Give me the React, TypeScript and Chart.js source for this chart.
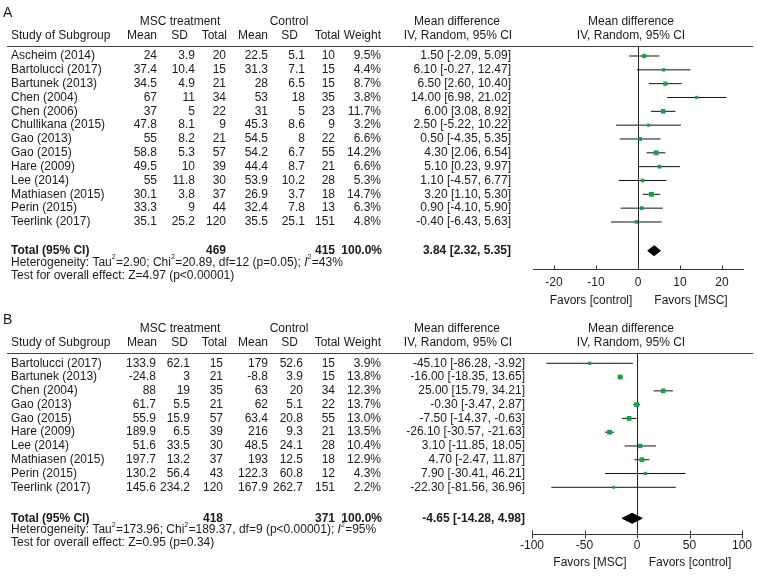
import React, { useEffect, useRef } from 'react';
import { Chart, registerables } from 'chart.js';

Chart.register(...registerables);

const FONT = '"Liberation Sans", Arial, Helvetica, sans-serif';
const TEXT = '#1a1a1a';
const GREEN = '#1a9e4a';

// ---------- Panel A data ----------
const studiesA = ['Ascheim (2014)', 'Bartolucci (2017)', 'Bartunek (2013)', 'Chen (2004)', 'Chen (2006)', 'Chullikana (2015)', 'Gao (2013)', 'Gao (2015)', 'Hare (2009)', 'Lee (2014)', 'Mathiasen (2015)', 'Perin (2015)', 'Teerlink (2017)'];
const mscMeanA = [24, 37.4, 34.5, 67, 37, 47.8, 55, 58.8, 49.5, 55, 30.1, 33.3, 35.1];
const mscSdA = [3.9, 10.4, 4.9, 11, 5, 8.1, 8.2, 5.3, 10, 11.8, 3.8, 9, 25.2];
const mscNA = [20, 15, 21, 34, 22, 9, 21, 57, 39, 30, 37, 44, 120];
const ctlMeanA = [22.5, 31.3, 28, 53, 31, 45.3, 54.5, 54.2, 44.4, 53.9, 26.9, 32.4, 35.5];
const ctlSdA = [5.1, 7.1, 6.5, 18, 5, 8.6, 8, 6.7, 8.7, 10.2, 3.7, 7.8, 25.1];
const ctlNA = [10, 15, 15, 35, 23, 9, 22, 55, 21, 28, 18, 13, 151];
const weightA = [9.5, 4.4, 8.7, 3.8, 11.7, 3.2, 6.6, 14.2, 6.6, 5.3, 14.7, 6.3, 4.8];
const mdA = [1.5, 6.1, 6.5, 14.0, 6.0, 2.5, 0.5, 4.3, 5.1, 1.1, 3.2, 0.9, -0.4];
const loA = [-2.09, -0.27, 2.6, 6.98, 3.08, -5.22, -4.35, 2.06, 0.23, -4.57, 1.1, -4.1, -6.43];
const hiA = [5.09, 12.47, 10.4, 21.02, 8.92, 10.22, 5.35, 6.54, 9.97, 6.77, 5.3, 5.9, 5.63];
const ciTextA = mdA.map((m, i) => `${m.toFixed(2)} [${loA[i].toFixed(2)}, ${hiA[i].toFixed(2)}]`);
const totalA = { nMsc: 469, nCtl: 415, md: 3.84, lo: 2.32, hi: 5.35 };
const ticksA = [-20, -10, 0, 10, 20];
const rangeA = [-25, 25];
const hetA = ['Heterogeneity: Tau', '=2.90; Chi', '=20.89, df=12 (p=0.05); ', '=43%'];
const testA = 'Test for overall effect: Z=4.97 (p<0.00001)';
const favorsA = ['Favors [control]', 'Favors [MSC]'];

// ---------- Panel B data ----------
const studiesB = ['Bartolucci (2017)', 'Bartunek (2013)', 'Chen (2004)', 'Gao (2013)', 'Gao (2015)', 'Hare (2009)', 'Lee (2014)', 'Mathiasen (2015)', 'Perin (2015)', 'Teerlink (2017)'];
const mscMeanB = [133.9, -24.8, 88, 61.7, 55.9, 189.9, 51.6, 197.7, 130.2, 145.6];
const mscSdB = [62.1, 3, 19, 5.5, 15.9, 6.5, 33.5, 13.2, 56.4, 234.2];
const mscNB = [15, 21, 35, 21, 57, 39, 30, 37, 43, 120];
const ctlMeanB = [179, -8.8, 63, 62, 63.4, 216, 48.5, 193, 122.3, 167.9];
const ctlSdB = [52.6, 3.9, 20, 5.1, 20.8, 9.3, 24.1, 12.5, 60.8, 262.7];
const ctlNB = [15, 15, 34, 22, 55, 21, 28, 18, 12, 151];
const weightB = [3.9, 13.8, 12.3, 13.7, 13.0, 13.5, 10.4, 12.9, 4.3, 2.2];
const mdB = [-45.1, -16.0, 25.0, -0.3, -7.5, -26.1, 3.1, 4.7, 7.9, -22.3];
const loB = [-86.28, -18.35, 15.79, -3.47, -14.37, -30.57, -11.85, -2.47, -30.41, -81.56];
const hiB = [-3.92, -13.65, 34.21, 2.87, -0.63, -21.63, 18.05, 11.87, 46.21, 36.96];
const ciTextB = ['-45.10 [-86.28, -3.92]', '-16.00 [-18.35, 13.65]', '25.00 [15.79, 34.21]', '-0.30 [-3.47, 2.87]', '-7.50 [-14.37, -0.63]', '-26.10 [-30.57, -21.63]', '3.10 [-11.85, 18.05]', '4.70 [-2.47, 11.87]', '7.90 [-30.41, 46.21]', '-22.30 [-81.56, 36.96]'];
const totalB = { nMsc: 418, nCtl: 371, md: -4.65, lo: -14.28, hi: 4.98 };
const ticksB = [-100, -50, 0, 50, 100];
const rangeB = [-100, 100];
const hetB = ['Heterogeneity: Tau', '=173.96; Chi', '=189.37, df=9 (p<0.00001); ', '=95%'];
const testB = 'Test for overall effect: Z=0.95 (p=0.34)';
const favorsB = ['Favors [MSC]', 'Favors [control]'];

type Panel = {
  letter: string;
  studies: string[];
  cols: string[][];
  weight: number[];
  md: number[];
  lo: number[];
  hi: number[];
  ciText: string[];
  total: { nMsc: number; nCtl: number; md: number; lo: number; hi: number };
  ticks: number[];
  range: number[];
  het: string[];
  test: string;
  favors: string[];
};

type Layout = {
  height: number;
  padLeft: number;
  padRight: number;
  padTop: number;
  padBottom: number;
  axisH: number;
  yMin: number;
  yMax: number;
  totalRow: number;
  tickUp: number;
  tickDown: number;
  tickPad: number;
  favorsY: number;
  colRight: number[];
  ciRight: number;
  hetDy: number;
  testDy: number;
};

const panelA: Panel = {
  letter: 'A', studies: studiesA,
  cols: [mscMeanA, mscSdA, mscNA, ctlMeanA, ctlSdA, ctlNA].map((a) => a.map((v) => String(v))),
  weight: weightA, md: mdA, lo: loA, hi: hiA, ciText: ciTextA, total: totalA,
  ticks: ticksA, range: rangeA, het: hetA, test: testA, favors: favorsA,
};
const panelB: Panel = {
  letter: 'B', studies: studiesB,
  cols: [mscMeanB, mscSdB, mscNB, ctlMeanB, ctlSdB, ctlNB].map((a) => a.map((v) => String(v))),
  weight: weightB, md: mdB, lo: loB, hi: hiB, ciText: ciTextB, total: totalB,
  ticks: ticksB, range: rangeB, het: hetB, test: testB, favors: favorsB,
};

const layoutA: Layout = {
  height: 307, padLeft: 533, padRight: 14, padTop: 46, padBottom: 18, axisH: 20,
  yMin: -0.723, yMax: 15.40, totalRow: 14.08, tickUp: 4, tickDown: 0, tickPad: 6,
  favorsY: 300.5, colRight: [157, 195, 226, 268, 305, 335, 381], ciRight: 511,
  hetDy: 11.5, testDy: 25,
};
const layoutB: Layout = {
  height: 272, padLeft: 532, padRight: 15, padTop: 46, padBottom: 25, axisH: 20,
  yMin: -0.747, yMax: 12.39, totalRow: 11.25, tickUp: 4, tickDown: 4, tickPad: 4,
  favorsY: 255.7, colRight: [156, 190, 223, 268, 303, 335, 381], ciRight: 525,
  hetDy: 11.5, testDy: 24.5,
};

function txt(ctx: CanvasRenderingContext2D, s: string, x: number, y: number, align: CanvasTextAlign, bold = false, size = 12, italic = false) {
  ctx.font = `${italic ? 'italic ' : ''}${bold ? 'bold ' : ''}${size}px ${FONT}`;
  ctx.textAlign = align;
  ctx.textBaseline = 'middle';
  ctx.fillStyle = TEXT;
  ctx.fillText(s, x, y);
}

function drawHet(ctx: CanvasRenderingContext2D, parts: string[], x: number, y: number) {
  const segs: { t: string; sup?: boolean; it?: boolean }[] = [
    { t: parts[0] }, { t: '2', sup: true }, { t: parts[1] }, { t: '2', sup: true },
    { t: parts[2] }, { t: 'I', it: true }, { t: '2', sup: true }, { t: parts[3] },
  ];
  let cx = x;
  segs.forEach((s) => {
    const size = s.sup ? 7 : 12;
    ctx.font = `${s.it ? 'italic ' : ''}${size}px ${FONT}`;
    const w = ctx.measureText(s.t).width;
    txt(ctx, s.t, cx, s.sup ? y - 5 : y, 'left', false, size, !!s.it);
    cx += w + (s.sup ? 0.3 : 0);
  });
}

function buildChart(canvas: HTMLCanvasElement, p: Panel, L: Layout) {
  const sideOf = (w: number) => 1.5 + 0.9 * Math.sqrt(w);
  const T = L.totalRow;
  const dh = 0.36;

  const datasets: any[] = [];
  datasets.push({
    label: 'Mean difference',
    data: p.md.map((v, i) => ({ x: v, y: i })),
    showLine: false,
    pointStyle: 'rect',
    pointRadius: p.weight.map((w) => sideOf(w) / Math.SQRT2),
    pointBackgroundColor: GREEN,
    pointBorderColor: GREEN,
    pointBorderWidth: 0,
    order: 0,
  });
  datasets.push({
    label: 'Total',
    data: [
      { x: p.total.lo, y: T }, { x: p.total.md, y: T - dh }, { x: p.total.hi, y: T },
      { x: p.total.md, y: T + dh }, { x: p.total.lo, y: T },
    ],
    borderColor: '#000',
    backgroundColor: '#000',
    borderWidth: 1,
    pointRadius: 0,
    fill: 'shape',
    tension: 0,
    order: 1,
  });
  p.studies.forEach((s, i) => {
    datasets.push({
      label: s,
      data: [{ x: p.lo[i], y: i }, { x: p.hi[i], y: i }],
      borderColor: '#111',
      borderWidth: 1,
      pointRadius: 0,
      fill: false,
      order: 2,
    });
  });

  const tablePlugin = {
    id: 'forestTable',
    afterDraw(chart: any) {
      const { ctx, chartArea, scales } = chart;
      const x = scales.x;
      const y = scales.y;
      const c = L.colRight;
      ctx.save();
      // panel letter
      txt(ctx, p.letter, 3, 13.5, 'left', false, 14);
      // header rows
      const h1 = 21.5;
      const h2 = 36;
      txt(ctx, 'MSC treatment', 180, h1, 'center');
      txt(ctx, 'Control', 289, h1, 'center');
      txt(ctx, 'Mean difference', 457, h1, 'center');
      txt(ctx, 'Mean difference', 631, h1, 'center');
      txt(ctx, 'Study of Subgroup', 11, h2, 'left');
      txt(ctx, 'Mean', 157, h2, 'right');
      txt(ctx, 'SD', 188, h2, 'right');
      txt(ctx, 'Total', 227, h2, 'right');
      txt(ctx, 'Mean', 268, h2, 'right');
      txt(ctx, 'SD', 298, h2, 'right');
      txt(ctx, 'Total', 340, h2, 'right');
      txt(ctx, 'Weight', 381, h2, 'right');
      txt(ctx, 'IV, Random, 95% CI', 458, h2, 'center');
      txt(ctx, 'IV, Random, 95% CI', 631, h2, 'center');
      // header rule
      const ly = Math.round(chartArea.top) + 0.5;
      ctx.strokeStyle = '#444';
      ctx.lineWidth = 1;
      ctx.beginPath();
      ctx.moveTo(7, ly);
      ctx.lineTo(753, ly);
      ctx.stroke();
      // study rows
      p.studies.forEach((s, i) => {
        const yy = y.getPixelForValue(i);
        txt(ctx, s, 11, yy, 'left');
        p.cols.forEach((col, k) => txt(ctx, col[i], c[k], yy, 'right'));
        txt(ctx, `${p.weight[i].toFixed(1)}%`, c[6], yy, 'right');
        txt(ctx, p.ciText[i], L.ciRight, yy, 'right');
      });
      // total row
      const ty = y.getPixelForValue(T);
      txt(ctx, 'Total (95% CI)', 11, ty, 'left', true);
      txt(ctx, String(p.total.nMsc), c[2], ty, 'right', true);
      txt(ctx, String(p.total.nCtl), c[5], ty, 'right', true);
      txt(ctx, '100.0%', c[6] + 1, ty, 'right', true);
      txt(ctx, `${p.total.md.toFixed(2)} [${p.total.lo.toFixed(2)}, ${p.total.hi.toFixed(2)}]`, L.ciRight, ty, 'right', true);
      drawHet(ctx, p.het, 11, ty + L.hetDy);
      txt(ctx, p.test, 11, ty + L.testDy, 'left');
      // tick marks
      const ay = Math.round(chartArea.bottom) + 0.5;
      ctx.strokeStyle = '#333';
      ctx.lineWidth = 1;
      x.ticks.forEach((t: any) => {
        const px = Math.round(x.getPixelForValue(t.value)) + 0.5;
        ctx.beginPath();
        ctx.moveTo(px, ay - L.tickUp);
        ctx.lineTo(px, ay + L.tickDown);
        ctx.stroke();
      });
      // favours labels
      const z = x.getPixelForValue(0);
      txt(ctx, p.favors[0], z - 47, L.favorsY, 'center');
      txt(ctx, p.favors[1], z + 53, L.favorsY, 'center');
      ctx.restore();
    },
  };

  return new Chart(canvas, {
    type: 'line',
    data: { datasets },
    options: {
      animation: false,
      responsive: false,
      devicePixelRatio: 1,
      events: [],
      layout: { padding: { left: L.padLeft, right: L.padRight, top: L.padTop, bottom: L.padBottom } },
      plugins: { legend: { display: false }, tooltip: { enabled: false }, title: { display: false } },
      scales: {
        x: {
          type: 'linear',
          min: p.range[0],
          max: p.range[1],
          afterBuildTicks: (s: any) => {
            s.ticks = p.ticks.map((v) => ({ value: v }));
          },
          afterFit: (s: any) => {
            s.height = L.axisH;
          },
          ticks: {
            padding: L.tickPad,
            color: TEXT,
            font: { size: 12, family: FONT },
            maxRotation: 0,
            autoSkip: false,
            callback: (v: any) => String(v),
          },
          grid: {
            display: true,
            drawOnChartArea: true,
            drawTicks: false,
            lineWidth: 1,
            color: (ctx: any) => (ctx.tick && ctx.tick.value === 0 ? '#222' : 'rgba(0,0,0,0)'),
          },
          border: { display: true, color: '#333', width: 1 },
        },
        y: { type: 'linear', display: false, min: L.yMin, max: L.yMax, reverse: true },
      },
    },
    plugins: [tablePlugin],
  } as any);
}

function ForestPanel({ panel, layout, top }: { panel: Panel; layout: Layout; top: number }) {
  const ref = useRef<HTMLCanvasElement>(null);
  useEffect(() => {
    if (!ref.current) return;
    const chart = buildChart(ref.current, panel, layout);
    return () => chart.destroy();
  }, [panel, layout]);
  return (
    <canvas
      ref={ref}
      width={757}
      height={layout.height}
      style={{ position: 'absolute', left: 0, top, width: 757, height: layout.height }}
    />
  );
}

export default function App() {
  return (
    <div style={{ position: 'absolute', left: 0, top: 0, width: 757, height: 579, background: '#fff', overflow: 'hidden' }}>
      <ForestPanel panel={panelA} layout={layoutA} top={0} />
      <ForestPanel panel={panelB} layout={layoutB} top={307} />
    </div>
  );
}
